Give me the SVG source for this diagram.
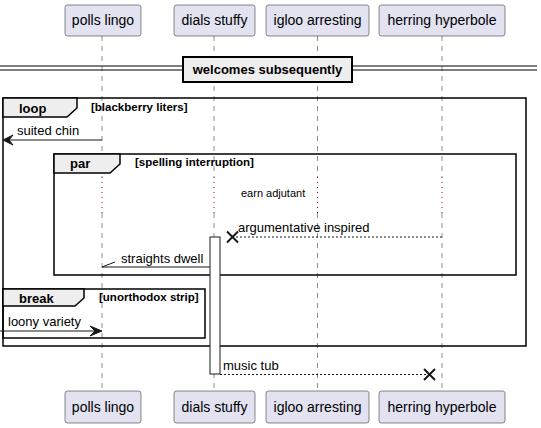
<svg xmlns="http://www.w3.org/2000/svg" width="541" height="428" viewBox="0 0 541 428">
<style>
text{font-family:"Liberation Sans",Arial,sans-serif;fill:#000}
.pn{font-size:14px}
.msg{font-size:13px}
.small{font-size:11px}
.gl{font-size:13px;font-weight:bold}
.cond{font-size:11.5px;font-weight:bold}
.pbox{fill:#E2E2F0;stroke:#181818;stroke-width:0.5}
.life{stroke:#181818;stroke-width:0.5;stroke-dasharray:5,5}
.delay{stroke:#A80036;stroke-width:1;stroke-dasharray:1,4}
.frame{fill:none;stroke:#000;stroke-width:1.5}
.tab{fill:#EEEEEE;stroke:#000;stroke-width:1.5}
.solid{stroke:#181818;stroke-width:1;fill:none}
.dash{stroke:#181818;stroke-width:1;stroke-dasharray:2,2;fill:none}
.xm{stroke:#181818;stroke-width:2;fill:none}
</style>

<g id="lifelines">
<line class="life" x1="102" y1="36" x2="102" y2="177"/>
<line class="life" x1="102" y1="213" x2="102" y2="391"/>
<line class="life" x1="214" y1="36" x2="214" y2="177"/>
<line class="life" x1="214" y1="213" x2="214" y2="391"/>
<line class="life" x1="317.5" y1="36" x2="317.5" y2="177"/>
<line class="life" x1="317.5" y1="213" x2="317.5" y2="391"/>
<line class="life" x1="442" y1="36" x2="442" y2="177"/>
<line class="life" x1="442" y1="213" x2="442" y2="391"/>
<line class="delay" x1="102" y1="177" x2="102" y2="213"/>
<line class="delay" x1="214" y1="177" x2="214" y2="213"/>
<line class="delay" x1="317.5" y1="177" x2="317.5" y2="213"/>
<line class="delay" x1="442" y1="177" x2="442" y2="213"/>
</g>

<g id="divider">
<line x1="0" y1="66" x2="537" y2="66" stroke="#000" stroke-width="1"/>
<line x1="0" y1="70" x2="537" y2="70" stroke="#000" stroke-width="1"/>
<rect x="183" y="57" width="169" height="25" fill="#EEEEEE" stroke="#000" stroke-width="2"/>
<text class="gl" x="267.5" y="74" text-anchor="middle">welcomes subsequently</text>
</g>

<g id="loop">
<rect class="frame" x="3" y="98" width="523" height="248"/>
<path class="tab" d="M3,98 L77,98 L77,108 L67,117 L3,117 Z"/>
<text class="gl" x="19" y="113">loop</text>
<text class="cond" x="91" y="111">[blackberry liters]</text>
</g>

<g id="par">
<rect class="frame" x="54" y="154" width="462" height="121"/>
<path class="tab" d="M54,154 L120,154 L120,164 L110,173 L54,173 Z"/>
<text class="gl" x="70" y="168">par</text>
<text class="cond" x="135" y="166">[spelling interruption]</text>
</g>

<g id="break">
<rect class="frame" x="3" y="289" width="202" height="49"/>
<path class="tab" d="M3,289 L84,289 L84,298 L75,306 L3,306 Z"/>
<text class="gl" x="19" y="303">break</text>
<text class="cond" x="99" y="301">[unorthodox strip]</text>
</g>

<g id="activation">
<rect x="210" y="237" width="10" height="137" fill="#FFFFFF" stroke="#181818" stroke-width="1"/>
</g>

<g id="connectors">
<line class="solid" x1="102" y1="140" x2="4" y2="140"/>
<polygon points="3,140 13,135 9,140 13,145" fill="#181818" stroke="#181818" stroke-width="1"/>
<text class="msg" x="17" y="135">suited chin</text>

<text class="small" x="241" y="197">earn adjutant</text>

<line class="dash" x1="442" y1="237" x2="233" y2="237"/>
<path class="xm" d="M227,231.5 L238,242.5 M238,231.5 L227,242.5"/>
<text class="msg" x="238" y="232">argumentative inspired</text>

<line class="solid" x1="210" y1="267" x2="102" y2="267"/>
<line class="solid" x1="102" y1="267" x2="115" y2="262"/>
<text class="msg" x="121" y="263">straights dwell</text>

<line class="solid" x1="0" y1="331" x2="100" y2="331"/>
<polygon points="102,331 90,326 95,331 90,336" fill="#181818" stroke="#181818" stroke-width="1"/>
<text class="msg" x="8" y="326">loony variety</text>

<line class="dash" x1="220" y1="374.5" x2="429" y2="374.5"/>
<path class="xm" d="M424,369 L435,380 M435,369 L424,380"/>
<text class="msg" x="223" y="370">music tub</text>
</g>

<g id="p-polls-lingo">
<rect class="pbox" x="65" y="5" width="76" height="31" rx="2.5"/>
<text class="pn" x="103" y="25" text-anchor="middle">polls lingo</text>
<rect class="pbox" x="65" y="391" width="76" height="32" rx="2.5"/>
<text class="pn" x="103" y="412" text-anchor="middle">polls lingo</text>
</g>
<g id="p-dials-stuffy">
<rect class="pbox" x="174" y="5" width="81" height="31" rx="2.5"/>
<text class="pn" x="214.5" y="25" text-anchor="middle">dials stuffy</text>
<rect class="pbox" x="174" y="391" width="81" height="32" rx="2.5"/>
<text class="pn" x="214.5" y="412" text-anchor="middle">dials stuffy</text>
</g>
<g id="p-igloo-arresting">
<rect class="pbox" x="266" y="5" width="103" height="31" rx="2.5"/>
<text class="pn" x="317.5" y="25" text-anchor="middle">igloo arresting</text>
<rect class="pbox" x="266" y="391" width="103" height="32" rx="2.5"/>
<text class="pn" x="317.5" y="412" text-anchor="middle">igloo arresting</text>
</g>
<g id="p-herring-hyperbole">
<rect class="pbox" x="379" y="5" width="126" height="31" rx="2.5"/>
<text class="pn" x="442" y="25" text-anchor="middle">herring hyperbole</text>
<rect class="pbox" x="379" y="391" width="126" height="32" rx="2.5"/>
<text class="pn" x="442" y="412" text-anchor="middle">herring hyperbole</text>
</g>
</svg>
